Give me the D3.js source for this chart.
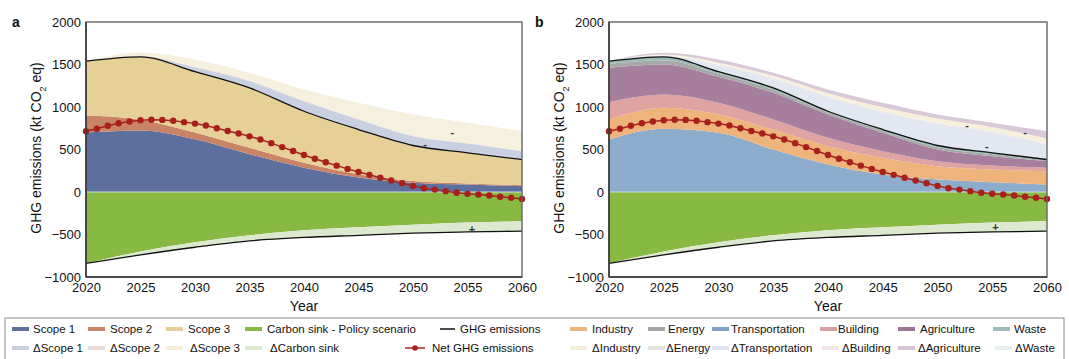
<!DOCTYPE html>
<html>
<head>
<meta charset="utf-8">
<script src="https://cdn.jsdelivr.net/npm/d3@7"></script>
<style>
body { margin: 0; background: #fff; }
text { font-family: "Liberation Sans", Arial, sans-serif; fill: #111; }
</style>
</head>
<body>
<div id="chart"></div>
<script>
// 5-year steps used by the stacked areas
var years = [2020, 2025, 2030, 2035, 2040, 2045, 2050, 2055, 2060];

// panel a, by scope
var scope1 = [700, 725, 620, 445, 285, 170, 110, 88, 70];
var scope2 = [200, 125, 80, 75, 60, 40, 20, 12, 10];
var scope3 = [640, 740, 715, 705, 605, 525, 417, 361, 302];
var dScope1 = [0, 5, 50, 78, 118, 118, 110, 110, 98];
var dScope2 = [0, 5, 10, 10, 8, 6, 5, 5, 5];
var dScope3 = [0, 42, 83, 89, 130, 190, 250, 238, 231];

// carbon sink (both panels)
var sink = [-840, -700, -590, -510, -450, -415, -385, -360, -345];
var dSink = [0, -40, -60, -65, -85, -95, -100, -110, -115];

// panel b, by sector
var transportation = [618, 743, 696, 500, 324, 206, 147, 115, 88];
var industry = [235, 247, 216, 235, 215, 196, 157, 150, 157];
var building = [204, 157, 137, 118, 98, 78, 59, 47, 39];
var agriculture = [404, 353, 306, 314, 275, 216, 137, 109, 79];
var energy = [45, 50, 35, 33, 22, 22, 27, 23, 11];
var waste = [34, 40, 25, 25, 16, 17, 20, 17, 8];
var dTransportation = [0, 10, 70, 100, 160, 200, 250, 235, 170];
var dEnergy = [0, 5, 10, 10, 10, 10, 10, 10, 10];
var dBuilding = [0, 2, 4, 5, 5, 5, 5, 5, 5];
var dWaste = [0, 2, 3, 3, 3, 3, 3, 3, 3];
var dIndustry = [0, 8, 20, 24, 35, 45, 50, 50, 60];
var dAgriculture = [0, 20, 37, 35, 43, 51, 47, 50, 86];

// net GHG emissions, yearly 2020-2060
var netYears = d3.range(2020, 2061);
var netGHG = [715, 745, 780, 808, 830, 845, 850, 848, 838, 822, 805, 782, 750, 718, 688, 655, 618, 575,
  528, 482, 435, 392, 350, 310, 272, 235, 202, 168, 136, 104, 72, 45, 28, 10, -8, -20, -30, -42, -55, -68, -82];

var yTicks = [-1000, -500, 0, 500, 1000, 1500, 2000];
var xTicks = [2020, 2025, 2030, 2035, 2040, 2045, 2050, 2055, 2060];

// +/- signs written on the delta bands
var marksA = [{year: 2051.1, value: 559, sign: "-"}, {year: 2053.6, value: 704, sign: "-"}, {year: 2055.4, value: -430, sign: "+"}];
var marksB = [{year: 2052.7, value: 786, sign: "-"}, {year: 2054.5, value: 547, sign: "-"}, {year: 2058, value: 704, sign: "-"}, {year: 2055.3, value: -410, sign: "+"}];

var width = 1069, height = 359;
var plotTop = 22, plotBottom = 277;

var svg = d3.select("#chart").append("svg")
  .attr("width", width)
  .attr("height", height);

var y = d3.scaleLinear().domain([-1000, 2000]).range([plotBottom, plotTop]);

function drawPanel(p) {
  var x = d3.scaleLinear().domain([2020, 2060]).range([p.left, p.right]);
  var g = svg.append("g");

  var clipId = "clip" + p.letter;
  svg.append("clipPath").attr("id", clipId)
    .append("rect").attr("x", p.left).attr("y", plotTop).attr("width", p.right - p.left).attr("height", plotBottom - plotTop);
  var plot = g.append("g").attr("clip-path", "url(#" + clipId + ")");

  function rows(layers) {
    return years.map(function (yr, i) {
      var r = {year: yr};
      layers.forEach(function (l) { r[l.key] = l.values[i]; });
      return r;
    });
  }

  var area = d3.area()
    .x(function (d) { return x(d.data.year); })
    .y0(function (d) { return y(d[0]); })
    .y1(function (d) { return y(d[1]); })
    .curve(d3.curveMonotoneX);

  var posStack = d3.stack().keys(p.pos.map(function (l) { return l.key; }))(rows(p.pos));
  var negLayers = [{key: "sink", values: sink, color: "#88b943"}, {key: "dSink", values: dSink, color: "#dde9cf"}];
  var negStack = d3.stack().keys(negLayers.map(function (l) { return l.key; }))(rows(negLayers));

  plot.selectAll(".pos").data(posStack).enter().append("path")
    .attr("d", area)
    .attr("fill", function (d, i) { return p.pos[i].color; });
  plot.selectAll(".neg").data(negStack).enter().append("path")
    .attr("d", area)
    .attr("fill", function (d, i) { return negLayers[i].color; });

  // thin light line at zero
  plot.append("line")
    .attr("x1", p.left).attr("x2", p.right)
    .attr("y1", y(0)).attr("y2", y(0))
    .attr("stroke", "#d3dde8").attr("stroke-width", 1.2);

  // GHG emissions lines (top of the base layers, bottom of the sink)
  var edge = d3.line()
    .x(function (d) { return x(d.data.year); })
    .curve(d3.curveMonotoneX);
  plot.append("path")
    .datum(posStack[p.baseCount - 1])
    .attr("d", edge.y(function (d) { return y(d[1]); }))
    .attr("fill", "none").attr("stroke", "#111").attr("stroke-width", 1.3);
  plot.append("path")
    .datum(negStack[1])
    .attr("d", edge.y(function (d) { return y(d[1]); }))
    .attr("fill", "none").attr("stroke", "#111").attr("stroke-width", 1.3);

  plot.selectAll(".mark").data(p.marks).enter().append("text")
    .attr("x", function (d) { return x(d.year); })
    .attr("y", function (d) { return y(d.value); })
    .attr("text-anchor", "middle")
    .attr("dominant-baseline", "central")
    .style("font-size", "11px")
    .style("font-weight", "bold")
    .style("fill", "#333")
    .text(function (d) { return d.sign; });

  // net GHG emissions
  var net = netYears.map(function (yr, i) { return {year: yr, value: netGHG[i]}; });
  g.append("path")
    .datum(net)
    .attr("d", d3.line().x(function (d) { return x(d.year); }).y(function (d) { return y(d.value); }))
    .attr("fill", "none").attr("stroke", "#a8221f").attr("stroke-width", 1.5);
  g.selectAll(".dot").data(net).enter().append("circle")
    .attr("cx", function (d) { return x(d.year); })
    .attr("cy", function (d) { return y(d.value); })
    .attr("r", 3.2)
    .attr("fill", "#a8201c");

  // frame
  g.append("rect")
    .attr("x", p.left).attr("y", plotTop)
    .attr("width", p.right - p.left).attr("height", plotBottom - plotTop)
    .attr("fill", "none").attr("stroke", "#666").attr("stroke-width", 1.4);
  g.append("line").attr("x1", p.left).attr("x2", p.left).attr("y1", plotTop).attr("y2", plotBottom)
    .attr("stroke", "#333").attr("stroke-width", 1.5);
  g.append("line").attr("x1", p.left).attr("x2", p.right).attr("y1", plotBottom).attr("y2", plotBottom)
    .attr("stroke", "#333").attr("stroke-width", 1.5);

  var yAxis = g.append("g")
    .attr("transform", "translate(" + p.left + ",0)")
    .call(d3.axisLeft(y).tickValues(yTicks).tickFormat(d3.format("d")).tickSize(0).tickPadding(5));
  yAxis.select(".domain").remove();
  yAxis.selectAll("text").style("font-size", "13px").style("font-family", '"Liberation Sans", Arial, sans-serif').attr("fill", "#111");

  var xAxis = g.append("g")
    .attr("transform", "translate(0," + plotBottom + ")")
    .call(d3.axisBottom(x).tickValues(xTicks).tickFormat(d3.format("d")).tickSize(0).tickPadding(6));
  xAxis.select(".domain").remove();
  xAxis.selectAll("text").style("font-size", "13px").style("font-family", '"Liberation Sans", Arial, sans-serif').attr("fill", "#111");

  g.append("text")
    .attr("x", (p.left + p.right) / 2).attr("y", 311)
    .attr("text-anchor", "middle")
    .style("font-size", "14px")
    .text("Year");

  var yl = g.append("text")
    .attr("transform", "translate(" + (p.left - 45) + ",148) rotate(-90)")
    .attr("text-anchor", "middle")
    .style("font-size", "14px");
  yl.append("tspan").text("GHG emissions (kt CO");
  yl.append("tspan").attr("baseline-shift", "sub").style("font-size", "9px").text("2");
  yl.append("tspan").text(" eq)");

  g.append("text")
    .attr("x", p.left - 74).attr("y", 27)
    .style("font-size", "14px").style("font-weight", "bold")
    .text(p.letter);
}

drawPanel({
  letter: "a", left: 86, right: 522, baseCount: 3, marks: marksA,
  pos: [
    {key: "scope1", values: scope1, color: "#5d6f9d"},
    {key: "scope2", values: scope2, color: "#c98468"},
    {key: "scope3", values: scope3, color: "#e7d097"},
    {key: "dScope1", values: dScope1, color: "#c8d0e1"},
    {key: "dScope2", values: dScope2, color: "#e9dcd6"},
    {key: "dScope3", values: dScope3, color: "#f6f0de"}
  ]
});

drawPanel({
  letter: "b", left: 609, right: 1047, baseCount: 6, marks: marksB,
  pos: [
    {key: "transportation", values: transportation, color: "#8dabca"},
    {key: "industry", values: industry, color: "#efb37c"},
    {key: "building", values: building, color: "#dfa3a2"},
    {key: "agriculture", values: agriculture, color: "#a67e9e"},
    {key: "energy", values: energy, color: "#a5aaa8"},
    {key: "waste", values: waste, color: "#9cb9b6"},
    {key: "dTransportation", values: dTransportation, color: "#e2e7f1"},
    {key: "dEnergy", values: dEnergy, color: "#e4e5e5"},
    {key: "dBuilding", values: dBuilding, color: "#efe3e3"},
    {key: "dWaste", values: dWaste, color: "#e6eeee"},
    {key: "dIndustry", values: dIndustry, color: "#f8f0d8"},
    {key: "dAgriculture", values: dAgriculture, color: "#d8c8d8"}
  ]
});

// legend
var legendRow1 = [
  {label: "Scope 1", color: "#5d6f9d"}, {label: "Scope 2", color: "#c98468"}, {label: "Scope 3", color: "#e7d097"},
  {label: "Carbon sink - Policy scenario", color: "#88b943"}, {label: "GHG emissions", type: "line"},
  {label: "Industry", color: "#eab57e"}, {label: "Energy", color: "#a4a6a5"}, {label: "Transportation", color: "#7fa3c8"},
  {label: "Building", color: "#d9a2a2"}, {label: "Agriculture", color: "#9b7393"}, {label: "Waste", color: "#9dbcbb"}
];
var legendRow2 = [
  {label: "ΔScope 1", color: "#c8d0e1"}, {label: "ΔScope 2", color: "#e6dbd7"}, {label: "ΔScope 3", color: "#f5efdc"},
  {label: "ΔCarbon sink", color: "#dde9cf"}, {label: "Net GHG emissions", type: "net"},
  {label: "ΔIndustry", color: "#f6efd9"}, {label: "ΔEnergy", color: "#e3e3e3"}, {label: "ΔTransportation", color: "#dfe5ef"},
  {label: "ΔBuilding", color: "#f0e6e6"}, {label: "ΔAgriculture", color: "#d6c6d6"}, {label: "ΔWaste", color: "#e8eeee"}
];
var row1X = [12, 88, 166, 245, 440, 570, 648, 712, 820, 898, 993];
var row1T = [33, 110, 188, 267, 460, 592, 668, 731, 838, 920, 1014];
var row2X = [12, 88, 166, 245, 405, 570, 648, 712, 822, 898, 995];
var row2T = [33, 110, 190, 270, 432, 592, 666, 731, 842, 918, 1015];

svg.append("rect")
  .attr("x", 5).attr("y", 318).attr("width", 1059).attr("height", 50)
  .attr("fill", "none").attr("stroke", "#8a8a8a").attr("stroke-width", 1);

function legendRow(items, xs, ts, cy) {
  var row = svg.append("g");
  items.forEach(function (d, i) {
    if (d.type === "line") {
      row.append("line").attr("x1", xs[i]).attr("x2", xs[i] + 15).attr("y1", cy).attr("y2", cy)
        .attr("stroke", "#111").attr("stroke-width", 1.5);
    } else if (d.type === "net") {
      row.append("line").attr("x1", xs[i]).attr("x2", xs[i] + 20).attr("y1", cy).attr("y2", cy)
        .attr("stroke", "#a8221f").attr("stroke-width", 1.5);
      row.append("circle").attr("cx", xs[i] + 10).attr("cy", cy).attr("r", 2.8).attr("fill", "#a8201c");
    } else {
      row.append("rect").attr("x", xs[i]).attr("y", cy - 2).attr("width", 17).attr("height", 4)
        .attr("fill", d.color);
    }
    row.append("text").attr("x", ts[i]).attr("y", cy)
      .attr("dominant-baseline", "central")
      .style("font-size", "11.5px")
      .text(d.label);
  });
}
legendRow(legendRow1, row1X, row1T, 329);
legendRow(legendRow2, row2X, row2T, 348);
</script>
</body>
</html>
